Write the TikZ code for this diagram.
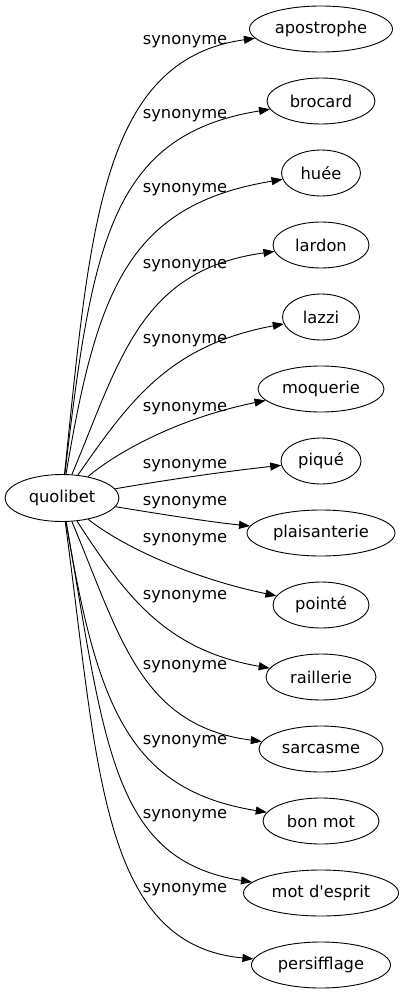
\documentclass[tikz,border=0pt]{standalone}
\usepackage{fontspec}
\setmainfont{DejaVu Sans}[Ligatures=TeXOff]
\usepackage{tikz}
\usetikzlibrary{arrows.meta,shapes.geometric}
\tikzset{
 word/.style
  = {ellipse, draw, line width=0.9pt, inner sep=0pt, minimum height=46pt},
 l/.style
  = {draw, line width=0.9pt, -{Triangle[length=11pt,width=8pt]}},
 synlabel/.style
  = {inner sep=0pt}
}

\begin{document}
\begin{tikzpicture}[x=1pt, y=-1pt, font=\fontsize{16.3}{19}\selectfont]
    \useasboundingbox (0,0) rectangle (404,995);

    \node [word, minimum width=114pt, minimum height=47pt] (quolibet) at (62,498) {quolibet};

    \node [word, minimum width=143pt] (apostrophe) at (321,29) {apostrophe};
    \node [word, minimum width=108pt] (brocard) at (321,101) {brocard};
    \node [word, minimum width=79pt] (huee) at (321,173) {huée};
    \node [word, minimum width=96pt] (lardon) at (321,245) {lardon};
    \node [word, minimum width=77pt] (lazzi) at (321,317) {lazzi};
    \node [word, minimum width=126pt] (moquerie) at (321,389) {moquerie};
    \node [word, minimum width=80pt] (pique) at (321,461) {piqué};
    \node [word, minimum width=148pt] (plaisanterie) at (321,533) {plaisanterie};
    \node [word, minimum width=96pt] (pointe) at (321,605) {pointé};
    \node [word, minimum width=110pt] (raillerie) at (321,677) {raillerie};
    \node [word, minimum width=124pt] (sarcasme) at (321,749) {sarcasme};
    \node [word, minimum width=116pt] (bonmot) at (321,821) {bon mot};
    \node [word, minimum width=155pt] (motdesprit) at (321,893) {mot d'esprit};
    \node [word, minimum width=139pt] (persifflage) at (321,965) {persifflage};

    \node [synlabel] (lab1) at (185,42) {synonyme};
    \node [synlabel] (lab2) at (185,116) {synonyme};
    \node [synlabel] (lab3) at (185,190) {synonyme};
    \node [synlabel] (lab4) at (185,266) {synonyme};
    \node [synlabel] (lab5) at (185,341) {synonyme};
    \node [synlabel] (lab6) at (185,409) {synonyme};
    \node [synlabel] (lab7) at (185,466) {synonyme};
    \node [synlabel] (lab8) at (185,503) {synonyme};
    \node [synlabel] (lab9) at (185,540) {synonyme};
    \node [synlabel] (lab10) at (185,597) {synonyme};
    \node [synlabel] (lab11) at (185,667) {synonyme};
    \node [synlabel] (lab12) at (185,742) {synonyme};
    \node [synlabel] (lab13) at (185,816) {synonyme};
    \node [synlabel] (lab14) at (185,890) {synonyme};

    \path [l] (quolibet) .. controls (90,230) and (100,60) .. (apostrophe);
    \path [l] (quolibet) .. controls (92,245) and (110,135) .. (brocard);
    \path [l] (quolibet) .. controls (97,290) and (128,205) .. (huee);
    \path [l] (quolibet) .. controls (120,360) and (140,270) .. (lardon);
    \path [l] (quolibet) .. controls (130,400) and (170,345) .. (lazzi);
    \path [l] (quolibet) .. controls (120,450) and (180,418) .. (moquerie);
    \path [l] (quolibet) .. controls (160,481) and (220,472) .. (pique);
    \path [l] (quolibet) .. controls (160,514) and (210,522) .. (plaisanterie);
    \path [l] (quolibet) .. controls (120,545) and (190,578) .. (pointe);
    \path [l] (quolibet) .. controls (125,595) and (165,650) .. (raillerie);
    \path [l] (quolibet) .. controls (120,636) and (140,726) .. (sarcasme);
    \path [l] (quolibet) .. controls (97,705) and (128,790) .. (bonmot);
    \path [l] (quolibet) .. controls (105,745) and (112,860) .. (motdesprit);
    \path [l] (quolibet) .. controls (98,765) and (100,945) .. (persifflage);

\end{tikzpicture}
\end{document}
